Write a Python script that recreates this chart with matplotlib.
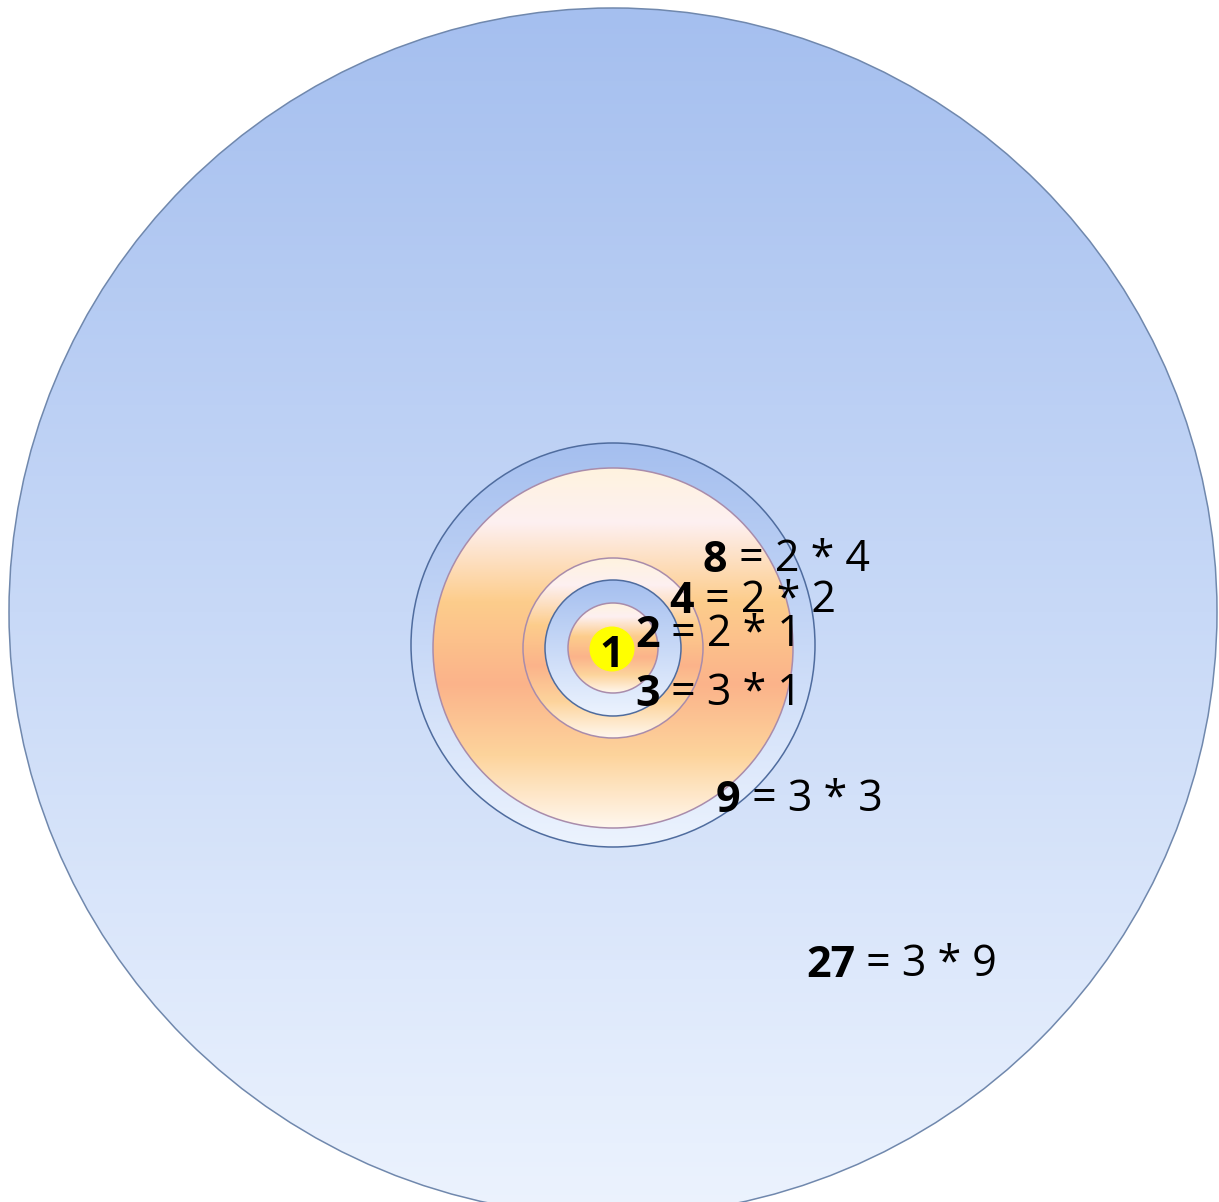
import numpy as np
import matplotlib
matplotlib.use("Agg")
import matplotlib.pyplot as plt
from matplotlib.patches import Circle
from matplotlib.colors import LinearSegmentedColormap

# products and how each one is made
products = ['1', '2', '3', '4', '8', '9', '27']
factors = ['', '= 2 * 1', '= 3 * 1', '= 2 * 2', '= 2 * 4', '= 3 * 3', '= 3 * 9']

# label anchors (left x, baseline y) in pixel coords
label_x = [612, 635, 635, 669, 703, 716, 806]
label_y = [667, 647, 706, 613, 572, 812, 977]

blue = LinearSegmentedColormap.from_list('blue', ['#a5bfef', '#c8d9f7', '#ecf3fe'])
orange = LinearSegmentedColormap.from_list(
    'orange',
    [(0.0, '#fff3df'), (0.15, '#fdf0f1'), (0.37, '#fdcd8c'),
     (0.6, '#fbb38a'), (0.8, '#fdd49c'), (1.0, '#fff7ee')])

fig = plt.figure(figsize=(12.19, 12.02), dpi=100)
ax = fig.add_axes([0, 0, 1, 1])


def disc(cx, cy, r, cmap, edge, z):
    circ = Circle((cx, cy), r, facecolor='none', edgecolor=edge, lw=1.1, zorder=z + 0.5)
    ax.add_patch(circ)
    grad = np.linspace(0, 1, 256).reshape(-1, 1)
    im = ax.imshow(grad, cmap=cmap, extent=(cx - r, cx + r, cy + r, cy - r),
                   aspect='auto', interpolation='bilinear', zorder=z)
    im.set_clip_path(circ)


disc(613, 612, 604, blue, '#7088ad', 1)
disc(613, 645, 202, blue, '#4f6c9e', 2)
disc(613, 648, 180, orange, '#a98cab', 3)
disc(613, 648, 90, orange, '#a98cab', 4)
disc(613, 648, 68, blue, '#4f6c9e', 5)
disc(613, 648, 45, orange, '#a98cab', 6)
ax.add_patch(Circle((612, 649), 22.5, facecolor='#ffff00', edgecolor='none', zorder=7))

font = ['Open Sans', 'DejaVu Sans']
size = 31
for i, p in enumerate(products):
    if factors[i] == '':
        ax.text(label_x[i], label_y[i], p, ha='center', va='baseline', fontsize=size,
                fontweight='bold', family=font, zorder=10)
        continue
    t = ax.text(label_x[i], label_y[i], p, ha='left', va='baseline', fontsize=size,
                fontweight='bold', family=font, zorder=10)
    ax.annotate(' ' + factors[i], xy=(1, 0), xycoords=t, ha='left', va='bottom',
                fontsize=size, family=font, zorder=10)

ax.set_xlim(0, 1219)
ax.set_ylim(1202, 0)
ax.axis('off')
fig.savefig('out.png', dpi=100, facecolor='white')
